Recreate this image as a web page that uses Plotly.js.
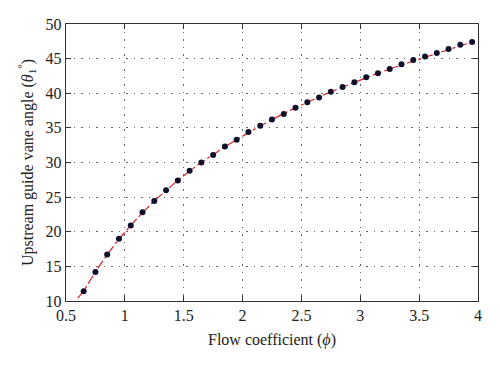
<!DOCTYPE html>
<html>
<head>
<meta charset="utf-8">
<script src="https://cdn.plot.ly/plotly-3.0.1.min.js"></script>
<style>html,body{margin:0;padding:0;background:#fff;}#chart{width:500px;height:369px;}</style>
</head>
<body>
<div id="chart"></div>
<script>
// Measured data points
var phi = [0.65,0.75,0.85,0.95,1.05,1.15,1.25,1.35,1.45,1.55,1.65,1.75,1.85,1.95,2.05,2.15,2.25,2.35,2.45,2.55,2.65,2.75,2.85,2.95,3.05,3.15,3.25,3.35,3.45,3.55,3.65,3.75,3.85,3.95];
var theta = [11.4,14.2,16.7,19.0,20.9,22.8,24.45,26.0,27.4,28.8,30.0,31.1,32.3,33.3,34.4,35.3,36.2,37.0,37.9,38.7,39.4,40.2,40.9,41.6,42.3,42.9,43.5,44.2,44.8,45.3,45.8,46.4,47.0,47.4];
// Fitted curve
var fitX = [0.6,0.65,0.75,0.85,0.95,1.05,1.2,1.4,1.6,1.8,2.0,2.25,2.5,2.75,3.0,3.25,3.5,3.75,3.97];
var fitY = [10.4,11.5,14.2,16.7,18.9,20.9,23.6,26.7,29.4,31.7,33.8,36.2,38.3,40.2,41.9,43.5,44.9,46.3,47.5];
var xTicks = [0.5,1,1.5,2,2.5,3,3.5,4];
var xTickText = ['0.5','1','1.5','2','2.5','3','3.5','4'];
var yTicks = [10,15,20,25,30,35,40,45,50];

var font = {family: '"Liberation Serif", "DejaVu Serif", serif', size: 16, color: '#222'};

var traces = [
  {x: fitX, y: fitY, mode: 'lines', type: 'scatter', line: {color: '#e0202a', width: 1.2, dash: 'dashdot', shape: 'spline'}, hoverinfo: 'skip'},
  {x: phi, y: theta, mode: 'markers', type: 'scatter', marker: {color: '#10102a', size: 6}}
];

var axisCommon = {
  showline: true, linecolor: '#333', linewidth: 1.2, mirror: 'allticks',
  ticks: 'inside', ticklen: 5, tickcolor: '#333', tickwidth: 1,
  showgrid: true, gridcolor: '#666', griddash: '1.5px,6px', gridwidth: 1,
  zeroline: false, tickfont: font
};

var layout = {
  width: 500, height: 369,
  margin: {l: 66, r: 22, t: 24, b: 67.5},
  paper_bgcolor: '#fff', plot_bgcolor: '#fff',
  showlegend: false,
  font: font,
  xaxis: Object.assign({}, axisCommon, {
    range: [0.5, 4], tickvals: xTicks, ticktext: xTickText,
    title: {text: 'Flow coefficient (<i>ϕ</i>)', font: font, standoff: 10}
  }),
  yaxis: Object.assign({}, axisCommon, {
    range: [10, 50], tickvals: yTicks,
    title: {text: 'Upstream guide vane angle (<i>θ</i><sub>1</sub><sup>°</sup>)', font: font, standoff: 8}
  })
};

Plotly.newPlot('chart', traces, layout, {displayModeBar: false, staticPlot: true});
</script>
</body>
</html>
